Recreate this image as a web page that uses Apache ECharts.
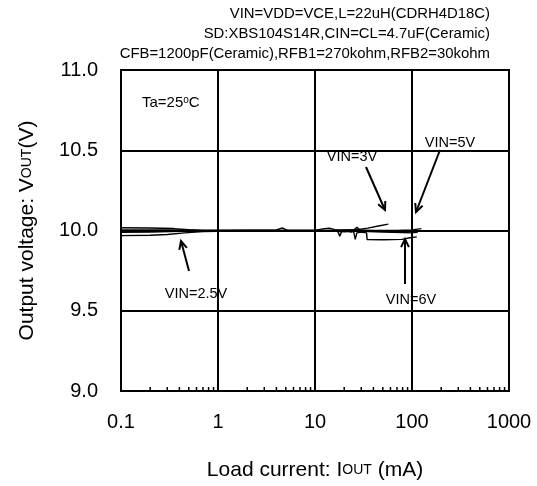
<!DOCTYPE html>
<html>
<head>
<meta charset="utf-8">
<script src="https://cdn.jsdelivr.net/npm/echarts@6/dist/echarts.min.js"></script>
<style>
  html, body { margin: 0; padding: 0; background: #fff; }
  #main { width: 537px; height: 486px; }
</style>
</head>
<body>
<div id="main"></div>
<script>
// axis ticks
var xTicks = [0.1, 1, 10, 100, 1000];
var yTicks = [9.0, 9.5, 10.0, 10.5, 11.0];
var minorTicks = [0.2, 0.3, 0.4, 0.5, 0.6, 0.7, 0.8, 0.9,
                  2, 3, 4, 5, 6, 7, 8, 9,
                  20, 30, 40, 50, 60, 70, 80, 90,
                  200, 300, 400, 500, 600, 700, 800, 900];

// [IOUT (mA), VOUT (V)]
var vin25 = [[0.1, 9.968], [0.2, 9.970], [0.3, 9.975], [0.45, 9.985], [0.7, 9.993], [1, 9.995],
             [2, 9.996], [5, 9.996], [10, 9.997], [15, 9.996], [20, 9.992], [25, 9.995], [26, 9.945],
             [27, 9.985], [30, 9.990], [34, 9.985], [34.5, 9.943], [50, 9.942], [79, 9.945],
             [95, 9.955], [112, 9.960]];
var vin3 = [[0.1, 9.989], [0.2, 9.990], [0.4, 9.995], [1, 10.0], [3, 10.0], [10, 10.0],
            [17, 10.0], [18, 9.965], [19, 10.0], [22, 10.004], [26, 10.003], [35, 10.015],
            [45, 10.028], [57, 10.040]];
var vin5 = [[0.1, 10.003], [0.3, 10.003], [1, 10.001], [5, 10.0], [10, 10.001], [12, 10.01],
            [14, 10.015], [16, 10.005], [25, 10.003], [40, 10.0], [70, 10.001], [100, 10.004],
            [125, 10.012]];
var vin6 = [[0.1, 10.017], [0.2, 10.016], [0.35, 10.012], [0.5, 10.005], [0.7, 10.0], [1, 10.0],
            [4, 10.003], [4.6, 10.016], [5.2, 10.0], [20, 10.0], [24, 9.99], [27, 10.02],
            [30, 9.995], [50, 9.99], [80, 9.988], [100, 9.985], [115, 9.99]];

var font = 'Liberation Sans, Arial, sans-serif';

function lineSeries(name, data) {
  return {
    name: name, type: 'line', data: data, symbol: 'none', smooth: false,
    lineStyle: { color: '#000', width: 1.4 }, z: 5
  };
}

function arrow(x1, y1, x2, y2) {
  var a = Math.atan2(y2 - y1, x2 - x1), h = 9, w = 0.45;
  return {
    type: 'group', z: 100, children: [
      { type: 'line', shape: { x1: x1, y1: y1, x2: x2, y2: y2 }, style: { stroke: '#000', lineWidth: 2 } },
      { type: 'polyline', shape: { points: [
          [x2 - h * Math.cos(a - w), y2 - h * Math.sin(a - w)], [x2, y2],
          [x2 - h * Math.cos(a + w), y2 - h * Math.sin(a + w)]] },
        style: { stroke: '#000', lineWidth: 2, fill: null } }
    ]
  };
}

function label(text, cx, cy, bx, by, bw, bh) {
  return {
    type: 'group', z: 100, children: [
      { type: 'rect', shape: { x: bx, y: by, width: bw, height: bh }, style: { fill: '#fff' } },
      { type: 'text', x: cx, y: cy, style: { text: text, font: '14.5px ' + font, fill: '#000',
        align: 'center', verticalAlign: 'middle' } }
    ]
  };
}

var chart = echarts.init(document.getElementById('main'));
chart.setOption({
  animation: false,
  backgroundColor: '#fff',
  grid: { left: 121, right: 28, top: 70, bottom: 95, show: true, borderColor: '#000', borderWidth: 2 },
  xAxis: {
    type: 'log', logBase: 10, min: xTicks[0], max: xTicks[xTicks.length - 1],
    name: 'Load current: I{s|OUT} (mA)', nameLocation: 'middle', nameGap: 69,
    nameTextStyle: { color: '#000', fontSize: 21, fontFamily: font,
      rich: { s: { fontSize: 14, fontFamily: font, color: '#000' } } },
    axisLine: { lineStyle: { color: '#000', width: 2 } },
    axisTick: { show: false },
    axisLabel: { color: '#000', fontSize: 20, fontFamily: font, margin: 21,
      formatter: function (v) { return String(+v.toPrecision(6)); } },
    splitLine: { show: true, lineStyle: { color: '#000', width: 2 } }
  },
  yAxis: {
    type: 'value', min: yTicks[0], max: yTicks[yTicks.length - 1], interval: 0.5,
    name: 'Output voltage: V{s|OUT}(V)', nameLocation: 'middle', nameGap: 83,
    nameTextStyle: { color: '#000', fontSize: 21, fontFamily: font,
      rich: { s: { fontSize: 14, fontFamily: font, color: '#000' } } },
    axisLine: { show: true, lineStyle: { color: '#000', width: 2 } },
    axisTick: { show: false },
    axisLabel: { color: '#000', fontSize: 20, fontFamily: font, margin: 23,
      formatter: function (v) { return v.toFixed(1); } },
    splitLine: { show: true, lineStyle: { color: '#000', width: 2 } }
  },
  series: [
    lineSeries('VIN=2.5V', vin25),
    lineSeries('VIN=3V', vin3),
    lineSeries('VIN=5V', vin5),
    lineSeries('VIN=6V', vin6),
    {
      type: 'custom', silent: true, z: 6,
      data: minorTicks.map(function (v) { return [v, yTicks[0]]; }),
      renderItem: function (params, api) {
        var p = api.coord([api.value(0), api.value(1)]);
        return { type: 'line', shape: { x1: p[0], y1: p[1], x2: p[0], y2: p[1] - 4 },
          style: { stroke: '#000', lineWidth: 1.5 } };
      }
    }
  ],
  graphic: [
    { type: 'text', right: 47, top: 6, z: 100,
      style: { text: 'VIN=VDD=VCE,L=22uH(CDRH4D18C)', font: '14.9px ' + font, fill: '#000' } },
    { type: 'text', right: 47, top: 26, z: 100,
      style: { text: 'SD:XBS104S14R,CIN=CL=4.7uF(Ceramic)', font: '14.9px ' + font, fill: '#000' } },
    { type: 'text', right: 47, top: 46, z: 100,
      style: { text: 'CFB=1200pF(Ceramic),RFB1=270kohm,RFB2=30kohm', font: '14.9px ' + font, fill: '#000' } },
    { type: 'text', x: 142, y: 95, z: 100,
      style: { text: 'Ta=25{s|o}C', font: '15px ' + font, fill: '#000',
        rich: { s: { fontSize: 10, fontFamily: font, verticalAlign: 'top', padding: [0, 0, 6, 0] } } } },
    label('VIN=3V', 352, 157, 317, 143, 68, 24),
    label('VIN=5V', 450, 143, 414, 130, 68, 26),
    label('VIN=2.5V', 196, 294, 156, 279, 80, 30),
    label('VIN=6V', 411, 300, 378, 286, 66, 30),
    arrow(366, 167, 385, 210),
    arrow(440, 150, 416, 212),
    arrow(189, 271, 181, 241),
    arrow(405, 284, 405, 239)
  ]
});
</script>
</body>
</html>
